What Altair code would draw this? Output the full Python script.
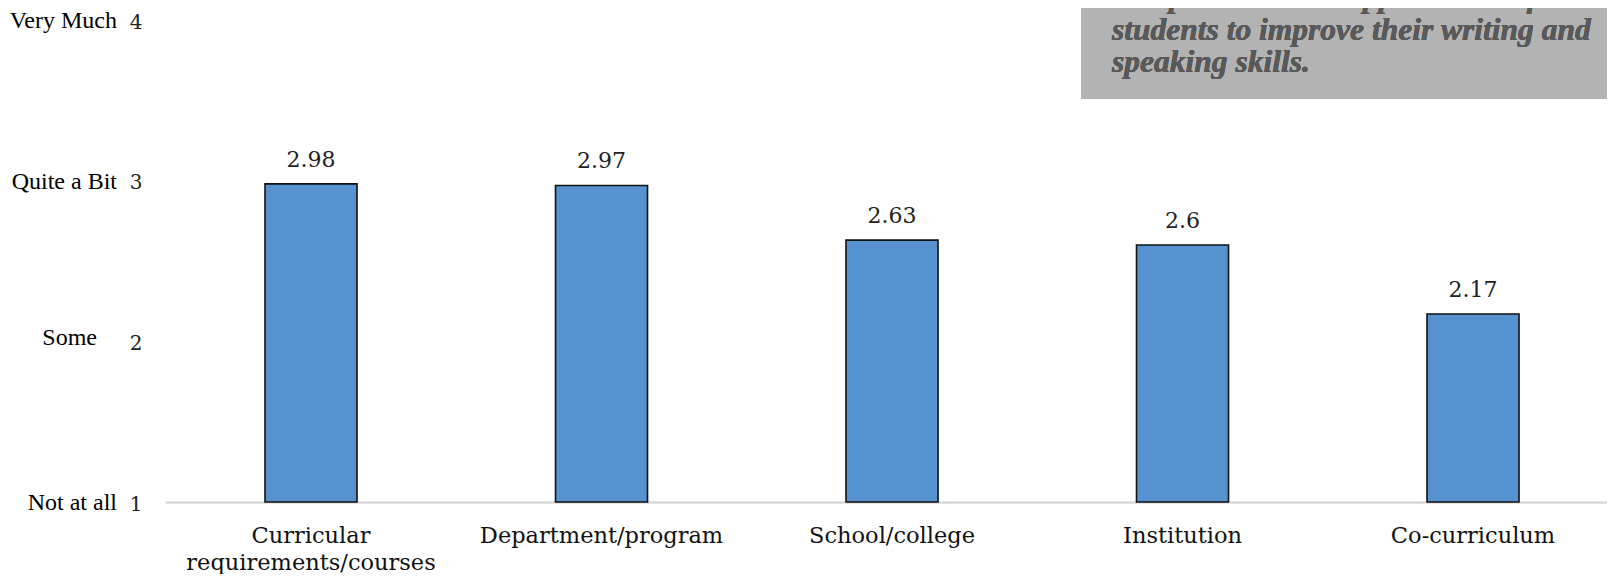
import altair as alt
import pandas as pd

categories = ["Curricular requirements/courses", "Department/program", "School/college", "Institution", "Co-curriculum"]
values = [2.98, 2.97, 2.63, 2.6, 2.17]
scale_values = [1, 2, 3, 4]
scale_names = ["Not at all", "Some", "Quite a Bit", "Very Much"]
note_lines = ["and provide more opportunities for", "students to improve their writing and", "speaking skills."]

bars_df = pd.DataFrame({"cat": categories, "val": values})
scale_df = pd.DataFrame({"v": scale_values, "name": scale_names})

SERIF = "DejaVu Serif"

x = alt.X("cat:N", sort=categories, title=None,
          scale=alt.Scale(paddingInner=0.6833, paddingOuter=0.3236, align=0.532),
          axis=alt.Axis(labelAngle=0, labelFont=SERIF, labelFontSize=22.5, labelColor="#111111",
                        ticks=False, domainColor="#d9d9d9", domainWidth=2.5, labelPadding=40,
                        labelLineHeight=27, labelLimit=0, labelFlush=False, labelBaseline="alphabetic",
                        labelExpr="datum.label == 'Curricular requirements/courses' ? ['Curricular', 'requirements/courses'] : datum.label"))
y = alt.Y("val:Q", title=None,
          scale=alt.Scale(domain=[1, 4], nice=False, zero=False),
          axis=alt.Axis(values=scale_values, format="d", grid=False, domain=False, ticks=False,
                        labelFont=SERIF, labelFontSize=20, labelColor="#222222", labelPadding=23,
                        labelOffset=2))

bars = alt.Chart(bars_df).mark_bar(color="#5592CF", stroke="#111111", strokeWidth=1.6).encode(
    x=x, y=y, y2=alt.datum(1))
labels = alt.Chart(bars_df).mark_text(baseline="alphabetic", dy=-17, font=SERIF, fontSize=22,
                                      color="#222222").encode(
    x=alt.X("cat:N", sort=categories), y="val:Q", text=alt.Text("val:Q"))

names_main = alt.Chart(scale_df).transform_filter("datum.name != 'Some'").mark_text(
    align="right", baseline="middle", dy=1, font="Liberation Serif", fontSize=24, color="#000000").encode(
    x=alt.value(-48), y=alt.Y("v:Q"), text="name:N")
names_some = alt.Chart(scale_df).transform_filter("datum.name == 'Some'").mark_text(
    align="right", baseline="middle", dy=-3, font="Liberation Serif", fontSize=24, color="#000000").encode(
    x=alt.value(-68), y=alt.Y("v:Q"), text="name:N")

box = alt.Chart(bars_df).mark_rect(color="#b3b3b3").encode(
    x=alt.value(916), x2=alt.value(1450), y=alt.value(-30), y2=alt.value(79))
note = alt.Chart(bars_df).mark_text(align="left", baseline="alphabetic", font="Liberation Serif",
                                    fontStyle="italic", fontWeight="bold", fontSize=31.5,
                                    lineHeight=32.5, color="#595959").encode(
    x=alt.value(947), y=alt.value(-13), text=alt.value(note_lines))

chart = alt.layer(bars, labels, names_main, names_some, box, note).properties(
    width=1442, height=482,
    autosize=alt.AutoSizeParams(type="none"),
    padding={"left": 157, "top": 12, "right": 0, "bottom": 72},
).configure_view(stroke=None)

chart.save("out.html", embed_options={"renderer": "svg", "actions": False})
